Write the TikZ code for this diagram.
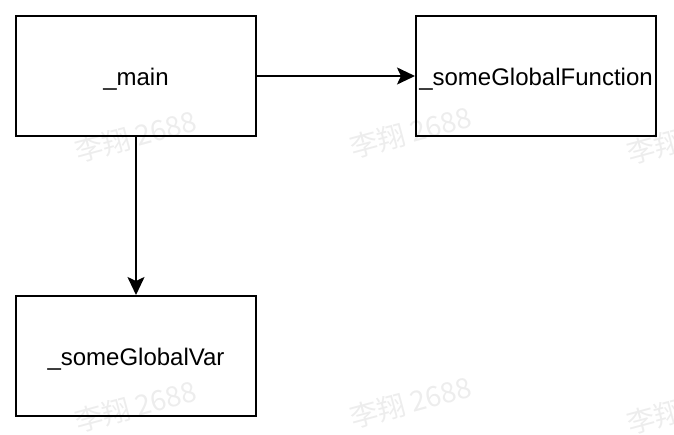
\documentclass[tikz,border=0pt]{standalone}
\usepackage{fontspec}
\setmainfont{Liberation Sans}
\newfontfamily\cjkfont{Noto Sans CJK SC}
\usetikzlibrary{arrows.meta}
\begin{document}
\begin{tikzpicture}[x=0.5pt,y=-0.5pt,
  box/.style={draw=black,line width=1pt,minimum width=120pt,minimum height=60pt,inner sep=0pt,text height=11pt,text depth=1.3pt,font=\fontsize{12pt}{14pt}\selectfont},
  conn/.style={line width=1pt,-{Stealth[length=9pt,width=8.5pt,inset=2pt]}},
  wm/.style={text=black!7,font=\cjkfont\fontsize{14pt}{16pt}\selectfont,rotate=15,inner sep=0pt}]
\useasboundingbox (0,0) rectangle (674,434);
% watermarks
\node[wm] (w1) at (136,136) {李翔 2688};
\node[wm] (w2) at (411,132) {李翔 2688};
\node[wm] (w3) at (688,138) {李翔 2688};
\node[wm] (w4) at (136,406) {李翔 2688};
\node[wm] (w5) at (411,402) {李翔 2688};
\node[wm] (w6) at (688,408) {李翔 2688};
% boxes
\node[box] (main) at (136,76) {\_main};
\node[box] (func) at (536,76) {\_someGlobalFunction};
\node[box] (var) at (136,356) {\_someGlobalVar};
% connectors
\draw[conn] (main.east) -- (func.west);
\draw[conn] (main.south) -- (var.north);
\end{tikzpicture}
\end{document}
